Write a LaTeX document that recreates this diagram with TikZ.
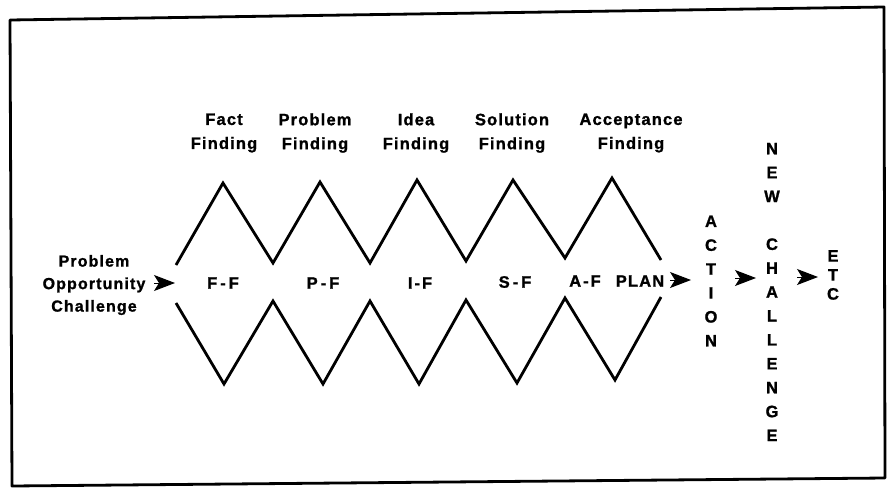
\documentclass[tikz,border=0pt]{standalone}
\usepackage{fontspec}
\setmainfont{Liberation Sans}[LetterSpace=7, BoldFeatures={FakeBold=1.2}]
\usetikzlibrary{arrows.meta}
\begin{document}
\begin{tikzpicture}[x=1pt,y=-1pt,
  lab/.style={font=\bfseries\fontsize{16.5}{24}\selectfont, align=center, inner sep=0pt},
  vert/.style={font=\bfseries\fontsize{16.5}{23.9}\selectfont, align=center, inner sep=0pt},
  zig/.style={line width=2.8pt, line join=miter, line cap=butt},
  frame/.style={line width=2.8pt, line join=round},
  ahead/.style={line width=1pt, -{Stealth[length=21pt,width=16pt,inset=5pt]}}]
\useasboundingbox (0,0) rectangle (889,488);
% frame
\draw[frame] (10,20) -- (884,7) -- (885,478) -- (12,486) -- cycle;
% zigzags
\draw[zig] (176,265) -- (223,183) -- (273,263) -- (320,182) -- (370,263) -- (417,180)
  -- (466,261) -- (513,180) -- (565,258) -- (612,178) -- (661,260);
\draw[zig] (176,303) -- (224,384) -- (273,301) -- (323,384) -- (370,301) -- (419,384)
  -- (466,300) -- (517,383) -- (565,298) -- (615,380) -- (661,297);
% top labels
\node[lab] (fact) at (224,133) {Fact\\Finding};
\node[lab] (prob) at (315,133) {Problem\\Finding};
\node[lab] (idea) at (416,133) {Idea\\Finding};
\node[lab] (sol) at (512,133) {Solution\\Finding};
\node[lab] (acc) at (631,133) {Acceptance\\Finding};
% input
\node[lab, font=\bfseries\fontsize{16}{22.5}\selectfont] (inp) at (94,285) {Problem\\Opportunity\\Challenge};
% middle labels
\node[lab] (ff) at (223,283) {F\hspace{3pt}-\hspace{3pt}F};
\node[lab] (pf) at (323,283) {P\hspace{3pt}-\hspace{3pt}F};
\node[lab] (if) at (420,283) {I\hspace{2pt}-\hspace{2pt}F};
\node[lab] (sf) at (515,282) {S\hspace{3pt}-\hspace{3pt}F};
\node[lab] (af) at (585,281) {A\hspace{2pt}-\hspace{2pt}F};
\node[lab] (plan) at (640,281) {PLAN};
% vertical words
\node[vert] (action) at (711,281) {A\\C\\T\\I\\O\\N};
\node[vert] (newch) at (772,292) {N\\E\\W\\[23.9pt]C\\H\\A\\L\\L\\E\\N\\G\\E};
\node[vert, font=\bfseries\fontsize{16.5}{19}\selectfont] (etc) at (833,275) {E\\T\\C};
% arrowheads
\coordinate (a0s) at (154,283); \coordinate (a0e) at (175,283);
\coordinate (a1s) at (670,280); \coordinate (a1e) at (691,280);
\coordinate (a2s) at (735,278); \coordinate (a2e) at (756,278);
\coordinate (a3s) at (797,277); \coordinate (a3e) at (818,277);
\draw[ahead] (a0s) -- (a0e);
\draw[ahead] (a1s) -- (a1e);
\draw[ahead] (a2s) -- (a2e);
\draw[ahead] (a3s) -- (a3e);
\end{tikzpicture}
\end{document}
